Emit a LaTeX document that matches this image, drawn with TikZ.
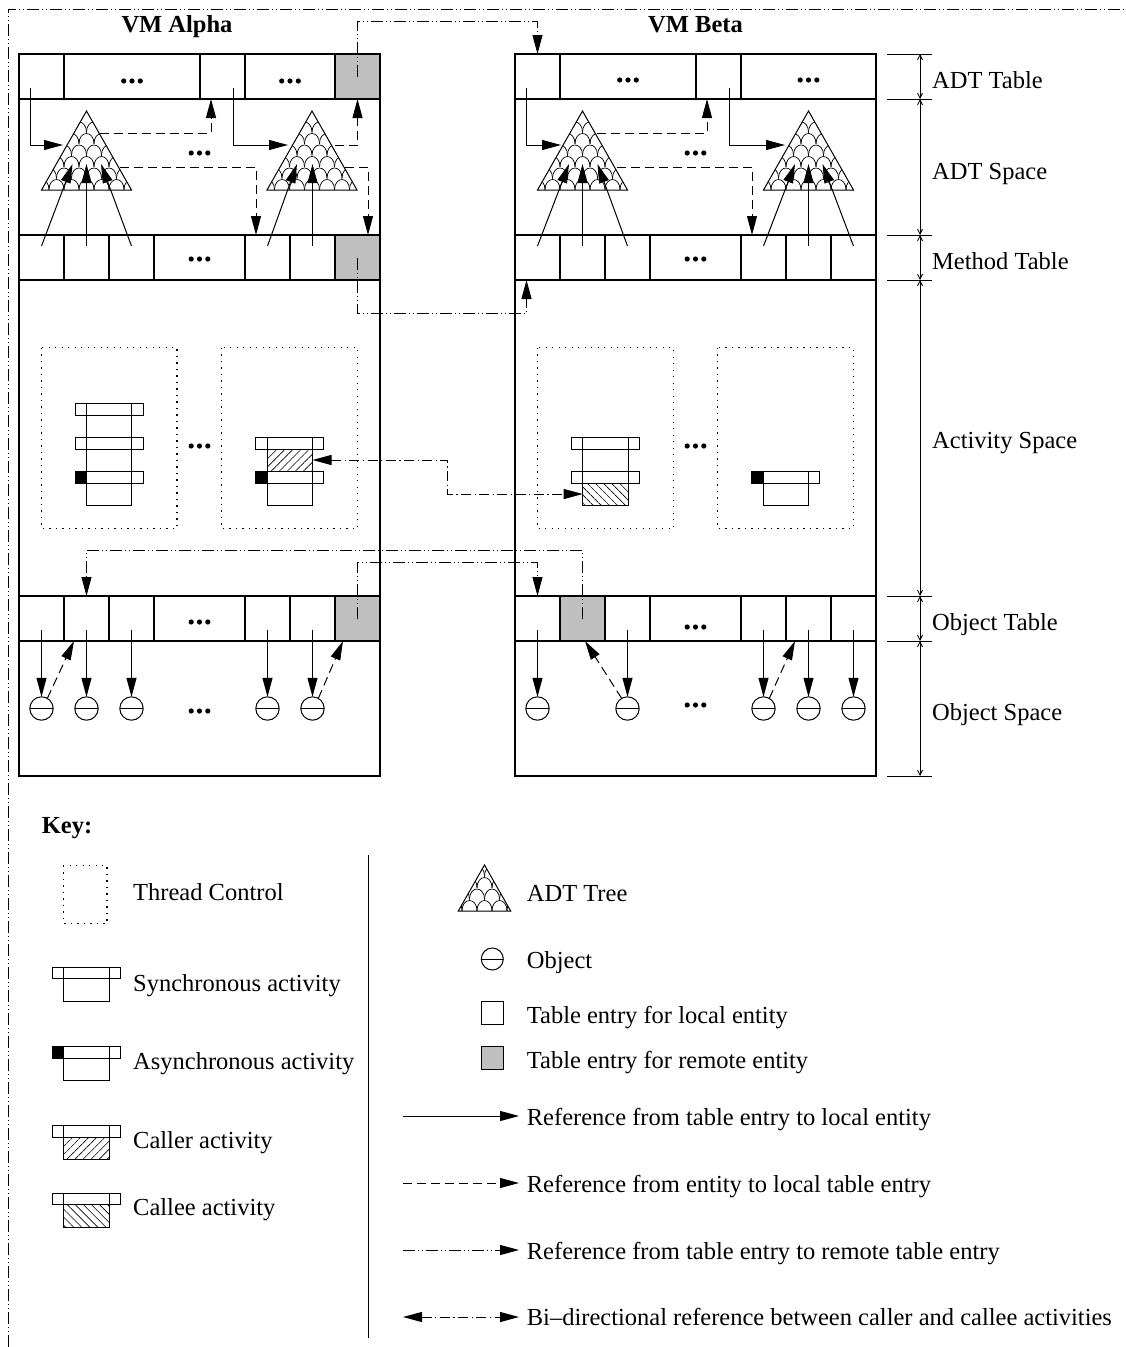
\documentclass[tikz,border=0pt]{standalone}
\usepackage{fontspec}
\setmainfont{Liberation Serif}
\usetikzlibrary{arrows.meta,calc,patterns.meta}

\tikzset{
  vmbox/.style={draw, line width=2pt, inner sep=0pt, outer sep=0pt},
  cell/.style={draw, line width=1.2pt, minimum height=45pt, inner sep=0pt, outer sep=0pt},
  rcell/.style={cell, fill=gray!50},
  txt/.style={font=\fontsize{24.5}{29}\selectfont, inner sep=0pt, anchor=base west},
  ttl/.style={font=\fontsize{24.5}{29}\selectfont\bfseries, inner sep=0pt, anchor=base},
  arrowtip/.style={-{Triangle[length=19pt,width=10pt]}},
  localref/.style={arrowtip, line width=1pt},
  entref/.style={arrowtip, line width=1pt, dash pattern=on 9pt off 5pt},
  remref/.style={arrowtip, line width=1pt, dash pattern=on 12pt off 3pt on 1pt off 3pt on 1pt off 3pt},
  biref/.style={{Triangle[length=19pt,width=10pt]}-{Triangle[length=19pt,width=10pt]}, line width=1pt, dash pattern=on 10pt off 3.5pt on 1.2pt off 3.5pt},
  thread/.style={line width=1.2pt, dash pattern=on 1.3pt off 5.2pt},
  objc/.style={draw, circle, line width=1pt, minimum size=23.4pt, inner sep=0pt, outer sep=0pt,
    path picture={\draw[line width=1pt] (path picture bounding box.west) -- (path picture bounding box.east);}},
  actline/.style={line width=1pt},
  scl/.style={line width=0.7pt},
  treeline/.style={line width=1pt},
  dimline/.style={line width=0.8pt},
  dimarr/.style={{Straight Barb[length=5pt,width=5pt]}-{Straight Barb[length=5pt,width=5pt]}, line width=0.8pt},
  outerframe/.style={line width=0.9pt, dash pattern=on 12pt off 3pt on 1pt off 3pt on 1pt off 3pt},
  tdots/.pic={\fill (-8.3,0) circle[radius=2.6pt]; \fill (0,0) circle[radius=2.6pt]; \fill (8.3,0) circle[radius=2.6pt];}
}

% activity symbol: body left x, top y
\newcommand\actv[2]{\draw[actline] (#1,#2) rectangle ++(45.5,34); \draw[actline] (#1-11.3,#2) rectangle ++(68.1,11.3);}
\newcommand\actmark[2]{\fill (#1-11.3,#2) rectangle ++(11.3,11.3);}
\newcommand\acthatch[3]{\fill[pattern={Lines[angle=#3,distance=5.7pt,line width=0.6pt]}] (#1,#2+11.3) rectangle ++(45.5,22.7);}
% ADT tree: apex x, apex y, half width, height
\newcommand\adttree[4]{%
  \begin{scope}
    \clip (#1,#2) -- (#1-#3,#2+#4) -- (#1+#3,#2+#4) -- cycle;
    \foreach \rr in {0,...,7}{
      \foreach \cc in {-4,...,4}{
        \pgfmathsetmacro\yy{#2+#4-\rr*11.5}
        \pgfmathsetmacro\xx{#1+\cc*15+mod(\rr,2)*7.5}
        \draw[scl] (\xx-7.5,\yy) .. controls (\xx-7.5,\yy-14) and (\xx+7.5,\yy-14) .. (\xx+7.5,\yy);
      }
    }
  \end{scope}
  \draw[treeline] (#1,#2) -- (#1-#3,#2+#4) -- (#1+#3,#2+#4) -- cycle;
}

\begin{document}
\begin{tikzpicture}[x=1pt,y=-1pt]
\useasboundingbox (0,0) rectangle (1125,1347);
\draw[outerframe] (8,1347) -- (8,9) -- (1125,9);

% titles
\node[ttl] (alphaT) at (177,32.5) {VM Alpha};
\node[ttl] (betaT) at (695.5,32.5) {VM Beta};

% ---- Alpha tables
\node[cell, minimum width=45pt] (aT1) at (41.5,76.5) {};
\node[cell, minimum width=136pt] (aT2) at (132,76.5) {};
\node[cell, minimum width=45pt] (aT3) at (222.5,76.5) {};
\node[cell, minimum width=90pt] (aT4) at (290,76.5) {};
\node[rcell, minimum width=45pt] (aT5) at (357.5,76.5) {};
\foreach \n/\x/\w in {1/41.5/45,2/86.5/45,3/131.5/45,4/199.5/91,5/267.5/45,6/312.5/45}{
  \node[cell, minimum width=\w pt] (aM\n) at (\x,257.5) {};
  \node[cell, minimum width=\w pt] (aO\n) at (\x,618.5) {};
}
\node[rcell, minimum width=45pt] (aM7) at (357.5,257.5) {};
\node[rcell, minimum width=45pt] (aO7) at (357.5,618.5) {};

% ---- Beta tables
\node[cell, minimum width=45pt] (bT1) at (537.5,76.5) {};
\node[cell, minimum width=136pt] (bT2) at (628,76.5) {};
\node[cell, minimum width=45pt] (bT3) at (718.5,76.5) {};
\node[cell, minimum width=135pt] (bT4) at (808.5,76.5) {};
\foreach \n/\x/\w in {1/537.5/45,2/582.5/45,3/627.5/45,4/695.5/91,5/763.5/45,6/808.5/45,7/853.5/45}{
  \node[cell, minimum width=\w pt] (bM\n) at (\x,257.5) {};
  \node[cell, minimum width=\w pt] (bO\n) at (\x,618.5) {};
}
\node[rcell, minimum width=45pt] (bO2x) at (582.5,618.5) {};

% VM boxes
\node[vmbox, minimum width=361pt, minimum height=722pt] (alpha) at (199.5,415) {};
\node[vmbox, minimum width=361pt, minimum height=722pt] (beta) at (695.5,415) {};

% dots
\pic at (132,81) {tdots};
\pic at (290,81) {tdots};
\pic at (199.5,153) {tdots};
\pic at (199.5,259) {tdots};
\pic at (199.5,446) {tdots};
\pic at (199.5,622) {tdots};
\pic at (199.5,711) {tdots};
\pic at (628,80) {tdots};
\pic at (808.5,80) {tdots};
\pic at (695.5,153) {tdots};
\pic at (695.5,259) {tdots};
\pic at (695.5,446) {tdots};
\pic at (695.5,627) {tdots};
\pic at (695.5,705) {tdots};

% ADT trees
\coordinate (aTr1) at (86.5,111);
\coordinate (aTr2) at (312,111);
\coordinate (bTr1) at (582.5,111);
\coordinate (bTr2) at (808.5,111);
\adttree{86.5}{111}{45}{79}
\adttree{312}{111}{45}{79}
\adttree{582.5}{111}{45}{79}
\adttree{808.5}{111}{45}{79}

% thread controls
\draw[thread] (41.7,347.7) rectangle (177,528.5);
\draw[thread] (221.7,347.7) rectangle (357.7,528.5);
\draw[thread] (537.3,347.7) rectangle (673.3,528.5);
\draw[thread] (717.7,347.7) rectangle (853.3,528.5);

% activities
\actv{86.3}{403.7}\actv{86.3}{437.7}\actv{86.3}{471.7}\actmark{86.3}{471.7}
\acthatch{267}{437.7}{45}\actv{267}{437.7}\actv{267}{471.7}\actmark{267}{471.7}
\actv{582.7}{437.7}\acthatch{582.7}{471.7}{-45}\actv{582.7}{471.7}
\actv{763}{471.7}\actmark{763}{471.7}
\coordinate (callerE) at (312.5,460);
\coordinate (calleeW) at (582.7,494);

% objects
\foreach \n/\x in {1/41.5,2/86.5,3/131.5,4/267.5,5/312.5}{\node[objc] (aob\n) at (\x,708.5) {};}
\foreach \n/\x in {1/537.5,2/627.5,3/763.5,4/808.5,5/853.5}{\node[objc] (bob\n) at (\x,708.5) {};}

% ---- Alpha ADT references
\draw[localref] ($(aT1.center)+(-11,11.5)$) |- ($(aTr1)+(-23.5,34)$);
\draw[entref] ($(aTr1)+(13.5,22)$) -| ($(aT3.south)+(-11.5,0)$);
\draw[localref] ($(aT3.center)+(11,11.5)$) |- ($(aTr2)+(-24,34)$);
\draw[entref] ($(aTr2)+(23,34)$) -| (aT5.south);
\draw[entref] ($(aTr1)+(33.5,56)$) -| ($(aM5.north)+(-11.5,0)$);
\draw[entref] ($(aTr2)+(33,56)$) -| ($(aM7.north)+(10.5,0)$);
\draw[localref] ($(aM1.center)+(0,-11.5)$) -- ($(aTr1)+(-14,53)$);
\draw[localref] ($(aM2.center)+(0,-11.5)$) -- ($(aTr1)+(0,53)$);
\draw[localref] ($(aM3.center)+(0,-11.5)$) -- ($(aTr1)+(14.5,53)$);
\draw[localref] ($(aM5.center)+(0,-11.5)$) -- ($(aTr2)+(-15,53)$);
\draw[localref] ($(aM6.center)+(0,-11.5)$) -- ($(aTr2)+(0.5,53)$);

% ---- Beta ADT references
\draw[localref] ($(bT1.center)+(-11,11.5)$) |- ($(bTr1)+(-21.5,34)$);
\draw[entref] ($(bTr1)+(14.5,22)$) -| ($(bT3.south)+(-11.5,0)$);
\draw[entref] ($(bTr1)+(34.5,56)$) -| ($(bM5.north)+(-11.5,0)$);
\draw[localref] ($(bT3.center)+(11,11.5)$) |- ($(bTr2)+(-23.5,34)$);
\draw[localref] ($(bM1.center)+(0,-11.5)$) -- ($(bTr1)+(-13.5,53)$);
\draw[localref] ($(bM2.center)+(0,-11.5)$) -- ($(bTr1)+(0,53)$);
\draw[localref] ($(bM3.center)+(0,-11.5)$) -- ($(bTr1)+(15,53)$);
\draw[localref] ($(bM5.center)+(0,-11.5)$) -- ($(bTr2)+(-13.5,53)$);
\draw[localref] ($(bM6.center)+(0,-11.5)$) -- ($(bTr2)+(0,53)$);
\draw[localref] ($(bM7.center)+(0,-11.5)$) -- ($(bTr2)+(14,53)$);

% ---- object references
\foreach \c/\o in {aO1/aob1,aO2/aob2,aO3/aob3,aO5/aob4,aO6/aob5,bO1/bob1,bO3/bob2,bO5/bob3,bO6/bob4,bO7/bob5}{
  \draw[localref] ($(\c.center)+(0,11)$) -- (\o.north);
}
\draw[entref] (aob1.60) -- ($(aO2.south west)+(10,0)$);
\draw[entref] (aob5.60) -- ($(aO7.south west)+(8,0)$);
\draw[entref] (bob2.120) -- ($(bO2x.south)+(2.5,0)$);
\draw[entref] (bob3.60) -- ($(bO6.south west)+(9,0)$);

% ---- remote references
\draw[remref] (aT5.center) -- ++(0,-55.5) -| (bT1.north);
\draw[remref] (aM7.center) -- ++(0,55.5) -| ($(bM1.south)+(-11,0)$);
\draw[remref] (aO7.center) -- ++(0,-56.5) -| (bO1.north);
\draw[remref] (bO2x.center) -- ++(0,-68.5) -| (aO2.north);

% ---- caller / callee
\draw[biref] (callerE) -- (447.5,460) |- (calleeW);

% ---- dimension marks
\foreach \y in {54,99,235,280,596,641,776}{\draw[dimline] (887,\y) -- (932,\y);}
\foreach \ya/\yb in {54/99,99/235,235/280,280/596,596/641,641/776}{\draw[dimarr] (920,\ya) -- (920,\yb);}
\node[txt] (l1) at (932,88.3) {ADT Table};
\node[txt] (l2) at (932,179.5) {ADT Space};
\node[txt] (l3) at (932,269.3) {Method Table};
\node[txt] (l4) at (932,448.5) {Activity Space};
\node[txt] (l5) at (932,630) {Object Table};
\node[txt] (l6) at (932,720) {Object Space};

% ---- key
\node[ttl, anchor=base west] (key) at (41.7,833.3) {Key:};
\draw[line width=1pt] (368.3,855) -- (368.3,1338);
\draw[thread] (63.3,865.7) rectangle (107,923.3);
\node[txt] (k1) at (133,900) {Thread Control};
\actv{63.7}{967.3}
\node[txt] (k2) at (133,991.7) {Synchronous activity};
\actv{63.7}{1046.7}\actmark{63.7}{1046.7}
\node[txt] (k3) at (133,1069.3) {Asynchronous activity};
\acthatch{63.7}{1125.7}{45}\actv{63.7}{1125.7}
\node[txt] (k4) at (133,1148.3) {Caller activity};
\acthatch{63.7}{1193.3}{-45}\actv{63.7}{1193.3}
\node[txt] (k5) at (133,1215.7) {Callee activity};

\adttree{484.5}{865}{26.2}{46}
\node[txt] (k6) at (526.7,901) {ADT Tree};
\node[objc, minimum size=22pt] (kobj) at (492.3,959) {};
\node[txt] (k7) at (526.7,968) {Object};
\draw[line width=1pt] (481.7,1001) rectangle (503.3,1024);
\node[txt] (k8) at (526.7,1023) {Table entry for local entity};
\draw[line width=1pt, fill=gray!50] (481.7,1046.7) rectangle (503.3,1069.3);
\node[txt] (k9) at (526.7,1068) {Table entry for remote entity};

\coordinate (ka1) at (403,1116); \coordinate (kb1) at (519,1116);
\coordinate (ka2) at (403,1183); \coordinate (kb2) at (519,1183);
\coordinate (ka3) at (403,1250); \coordinate (kb3) at (519,1250);
\coordinate (ka4) at (403,1317); \coordinate (kb4) at (519,1317);
\draw[localref] (ka1) -- (kb1);
\draw[entref] (ka2) -- (kb2);
\draw[remref] (ka3) -- (kb3);
\draw[biref] (ka4) -- (kb4);
\node[txt] (k10) at (526.7,1125) {Reference from table entry to local entity};
\node[txt] (k11) at (526.7,1192) {Reference from entity to local table entry};
\node[txt] (k12) at (526.7,1259) {Reference from table entry to remote table entry};
\node[txt] (k13) at (526.7,1325) {Bi--directional reference between caller and callee activities};
\end{tikzpicture}
\end{document}
